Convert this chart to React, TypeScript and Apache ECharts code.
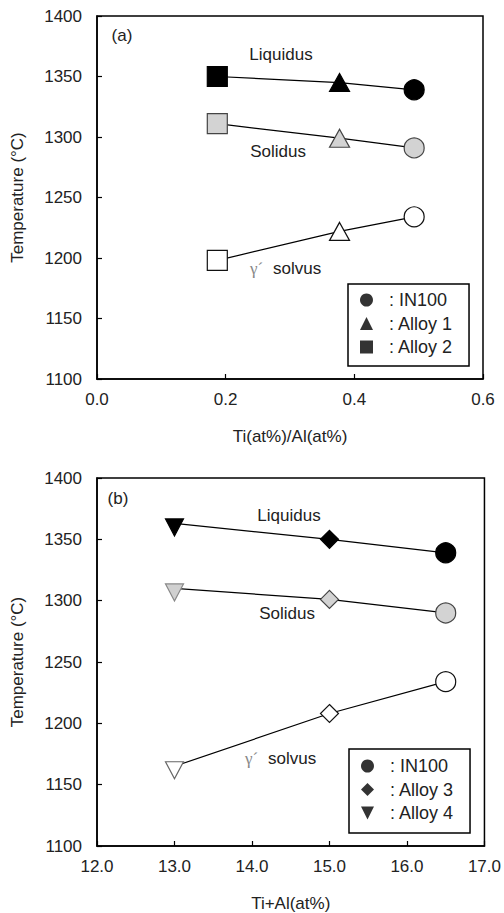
import React, { useEffect, useRef } from 'react';
import * as echarts from 'echarts';

// Panel (a): Ti/Al ratio; points ordered Alloy 2, Alloy 1, IN100
const ratioA = [0.187, 0.377, 0.493];
const liquidusA = [1350, 1345, 1339];
const solidusA = [1311, 1299, 1291];
const solvusA = [1198, 1222, 1234];
const alloysA = ['Alloy 2', 'Alloy 1', 'IN100'];

// Panel (b): Ti+Al; points ordered Alloy 4, Alloy 3, IN100
const sumB = [13.0, 15.0, 16.5];
const liquidusB = [1363, 1350, 1339];
const solidusB = [1310, 1301, 1290];
const solvusB = [1165, 1208, 1234];
const alloysB = ['Alloy 4', 'Alloy 3', 'IN100'];

const legendA = ['IN100', 'Alloy 1', 'Alloy 2'];
const legendB = ['IN100', 'Alloy 3', 'Alloy 4'];

const yMin = 1100;
const yMax = 1400;
const yStep = 50;

const FONT = '"Liberation Sans", Arial, sans-serif';
const TXT = '#222';

const INV_TRI = 'path://M0,0L2,0L1,2Z';
const markerOf: Record<string, { symbol: string; size: number | number[]; rotate?: number; offset?: number[] }> = {
  IN100: { symbol: 'circle', size: 20 },
  'Alloy 1': { symbol: 'triangle', size: [20, 18] },
  'Alloy 2': { symbol: 'rect', size: 20 },
  'Alloy 3': { symbol: 'diamond', size: 18 },
  'Alloy 4': { symbol: 'triangle', size: [18, 17], rotate: 180, offset: [0, 4] },
};
const legendIcon: Record<string, string> = {
  IN100: 'circle',
  'Alloy 1': 'triangle',
  'Alloy 2': 'rect',
  'Alloy 3': 'diamond',
  'Alloy 4': INV_TRI,
};

const styles = {
  liquidus: { color: '#000', borderColor: '#000' },
  solidus: { color: '#d3d3d3', borderColor: '#444' },
  solvus: { color: '#fff', borderColor: '#111' },
};
const lightStyles = {
  liquidus: { color: '#000', borderColor: '#000' },
  solidus: { color: '#d0d0d0', borderColor: '#888' },
  solvus: { color: '#fff', borderColor: '#666' },
};

function buildSeries(xs: number[], ys: number[], alloys: string[], kind: 'liquidus' | 'solidus' | 'solvus', idx: number) {
  return {
    type: 'line',
    name: kind + idx,
    xAxisIndex: idx,
    yAxisIndex: idx,
    data: xs.map((x, i) => {
      const m = markerOf[alloys[i]];
      const st = alloys[i] === 'Alloy 4' ? lightStyles[kind] : styles[kind];
      return {
        value: [x, ys[i]],
        symbol: m.symbol,
        symbolSize: m.size,
        symbolRotate: m.rotate || 0,
        symbolOffset: m.offset || [0, 0],
        itemStyle: { color: st.color, borderColor: st.borderColor, borderWidth: 1.2 },
      };
    }),
    showSymbol: true,
    lineStyle: { color: '#000', width: 1.2 },
    itemStyle: { color: '#000' },
    emphasis: { disabled: true },
    z: 3,
  };
}

function axisCommon() {
  return {
    axisLine: { show: true, onZero: false, lineStyle: { color: '#000', width: 1.5 } },
    axisTick: { show: true, inside: true, length: 5, lineStyle: { color: '#000', width: 1.2 } },
    splitLine: { show: false },
    nameTextStyle: { color: TXT, fontSize: 17, fontFamily: FONT },
  };
}

export default function App() {
  const ref = useRef<HTMLDivElement>(null);
  useEffect(() => {
    if (!ref.current) return;
    const chart = echarts.init(ref.current, undefined, { renderer: 'svg' });

    const xLabel = (v: number) => v.toFixed(1);
    const yLabel = (v: number) => String(v);
    const legendNames = Array.from(new Set([...legendA, ...legendB]));

    const mkLegend = (names: string[], left: number, top: number, padding: number[]) => ({
      orient: 'vertical',
      left,
      top,
      padding,
      itemWidth: 13,
      itemHeight: 13,
      itemGap: 5.5,
      borderColor: '#000',
      borderWidth: 1.5,
      backgroundColor: '#fff',
      selectedMode: false,
      data: names.map((n) => ({ name: n, icon: legendIcon[n] })),
      formatter: (n: string) => '{t|: ' + n + '}',
      textStyle: {
        fontSize: 18,
        lineHeight: 18,
        color: TXT,
        fontFamily: FONT,
        rich: { t: { fontSize: 18, lineHeight: 18, color: TXT, fontFamily: FONT, padding: [0, 0, 0, 11] } },
      },
    });

    const textEl = (text: string, x: number, y: number, align = 'center', extra: any = {}) => ({
      type: 'text',
      x,
      y,
      z: 10,
      style: {
        text,
        fill: TXT,
        font: '17px ' + FONT,
        align,
        verticalAlign: 'middle',
        textAlign: align,
        textVerticalAlign: 'middle',
        ...extra,
      },
    });

    chart.setOption({
      animation: false,
      backgroundColor: '#fff',
      grid: [
        { left: 97, top: 16, width: 386, height: 363, show: true, borderColor: '#000', borderWidth: 1.5, backgroundColor: 'transparent' },
        { left: 97, top: 478, width: 390, height: 368, show: true, borderColor: '#000', borderWidth: 1.5, backgroundColor: 'transparent' },
      ],
      xAxis: [
        {
          gridIndex: 0, type: 'value', min: 0, max: 0.6, interval: 0.2,
          ...axisCommon(),
          axisLabel: { color: TXT, fontSize: 17, fontFamily: FONT, margin: 12, formatter: xLabel },
          name: 'Ti(at%)/Al(at%)', nameLocation: 'middle', nameGap: 49,
        },
        {
          gridIndex: 1, type: 'value', min: 12, max: 17, interval: 1,
          ...axisCommon(),
          axisLabel: { color: TXT, fontSize: 17, fontFamily: FONT, margin: 12, formatter: xLabel },
          name: 'Ti+Al(at%)', nameLocation: 'middle', nameGap: 49,
        },
      ],
      yAxis: [0, 1].map((g) => ({
        gridIndex: g, type: 'value', min: yMin, max: yMax, interval: yStep,
        ...axisCommon(),
        axisLabel: { color: TXT, fontSize: 17, fontFamily: FONT, margin: 15, formatter: yLabel },
        name: 'Temperature (°C)', nameLocation: 'middle', nameGap: 71,
      })),
      legend: [
        mkLegend(legendA, 348, 284, [7, 16, 10, 12]),
        mkLegend(legendB, 349, 749, [8, 16, 11, 12]),
      ],
      series: [
        buildSeries(ratioA, liquidusA, alloysA, 'liquidus', 0),
        buildSeries(ratioA, solidusA, alloysA, 'solidus', 0),
        buildSeries(ratioA, solvusA, alloysA, 'solvus', 0),
        buildSeries(sumB, liquidusB, alloysB, 'liquidus', 1),
        buildSeries(sumB, solidusB, alloysB, 'solidus', 1),
        buildSeries(sumB, solvusB, alloysB, 'solvus', 1),
        ...legendNames.map((n) => ({
          type: 'scatter', name: n, xAxisIndex: 0, yAxisIndex: 0, data: [],
          symbol: legendIcon[n], itemStyle: { color: '#000' },
        })),
      ],
      graphic: [
        textEl('(a)', 122, 35),
        textEl('Liquidus', 281, 54),
        textEl('Solidus', 278, 151),
        textEl('γ´', 250, 268, 'left', { fill: '#888', font: '17px "Liberation Serif", serif' }),
        textEl('solvus', 273, 268, 'left'),
        textEl('(b)', 118, 498),
        textEl('Liquidus', 289, 515),
        textEl('Solidus', 287, 613),
        textEl('γ´', 245, 758, 'left', { fill: '#888', font: '17px "Liberation Serif", serif' }),
        textEl('solvus', 268, 758, 'left'),
      ],
    });
    return () => chart.dispose();
  }, []);
  return (
    <div
      ref={ref}
      style={{ position: 'absolute', left: 0, top: 0, width: 504, height: 913, background: '#fff' }}
    />
  );
}
